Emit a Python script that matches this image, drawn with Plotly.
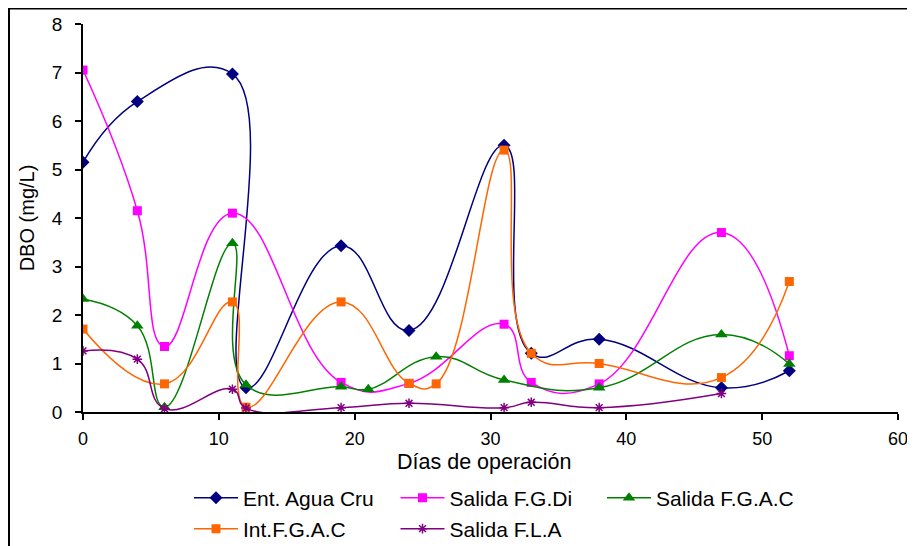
import plotly.graph_objects as go

# ---- data ----
x_ent = [0, 4, 11, 12, 19, 24, 31, 33, 38, 47, 52]
y_ent = [5.15, 6.4, 6.97, 0.5, 3.43, 1.68, 5.5, 1.21, 1.5, 0.5, 0.85]

x_fgdi = [0, 4, 6, 11, 19, 24, 31, 33, 38, 47, 52]
y_fgdi = [7.05, 4.15, 1.35, 4.1, 0.61, 0.59, 1.81, 0.61, 0.58, 3.7, 1.16]

x_fgac = [0, 4, 6, 11, 12, 19, 21, 26, 31, 38, 47, 52]
y_fgac = [2.33, 1.78, 0.1, 3.48, 0.56, 0.52, 0.47, 1.14, 0.66, 0.5, 1.6, 0.99]

x_int = [0, 6, 11, 12, 19, 24, 26, 31, 33, 38, 47, 52]
y_int = [1.71, 0.58, 2.27, 0.1, 2.27, 0.59, 0.58, 5.4, 1.21, 1.0, 0.71, 2.69]

x_fla = [0, 4, 6, 11, 12, 19, 24, 31, 33, 38, 47]
y_fla = [1.26, 1.09, 0.07, 0.47, 0.08, 0.09, 0.18, 0.09, 0.2, 0.09, 0.38]

names = ["Ent. Agua Cru", "Salida F.G.Di", "Salida F.G.A.C", "Int.F.G.A.C", "Salida F.L.A"]
x_ticks = [0, 10, 20, 30, 40, 50, 60]
y_ticks = [0, 1, 2, 3, 4, 5, 6, 7, 8]
x_title = "Días de operación"
y_title = "DBO (mg/L)"

FONT = "Liberation Sans, Arial, sans-serif"

fig = go.Figure()

def add(x, y, name, color, symbol, size, legend, lw=1.5):
    fig.add_trace(go.Scatter(
        x=x, y=y, name=name, mode="lines+markers",
        line=dict(color=color, width=lw, shape="spline", smoothing=1.3),
        marker=dict(symbol=symbol, size=size, color=color,
                    line=dict(color=color, width=1.5 if "open" in symbol else 0)),
        legend=legend,
    ))

add(x_ent, y_ent, names[0], "#000080", "diamond", 10, "legend")
add(x_fgdi, y_fgdi, names[1], "#FF00FF", "square", 9, "legend")
add(x_fgac, y_fgac, names[2], "#008000", "triangle-up", 11, "legend3")
add(x_int, y_int, names[3], "#FF6600", "square", 9, "legend2")
add(x_fla, y_fla, names[4], "#800080", "asterisk-open", 8, "legend2")

# The page body has an 8px margin, so the figure is drawn 8px lower/right.
OFF = 8
W, H = 915 - OFF, 546 - OFF
L, R, T, B = 83 - OFF, 17, 24 - OFF, 134
pw = W - L - R
ph = H - T - B

def px2paper_x(px):  # px in window coordinates
    return (px - OFF - L) / pw

def px2paper_y(py):
    return (H - B - (py - OFF)) / ph

COL = 206.5
LEG_FONT = 21
ITEMW = 44

def leg(xpx, ypx):
    return dict(
        orientation="h", x=px2paper_x(xpx), xanchor="left",
        y=px2paper_y(ypx), yanchor="middle",
        font=dict(size=LEG_FONT), itemwidth=ITEMW,
        entrywidth=COL - ITEMW - 15, entrywidthmode="pixels",
        bgcolor="rgba(0,0,0,0)", tracegroupgap=0, borderwidth=0,
    )

fig.update_layout(
    width=W, height=H,
    margin=dict(l=L, r=R, t=T, b=B, autoexpand=False),
    paper_bgcolor="white", plot_bgcolor="white",
    font=dict(family=FONT, size=16, color="black"),
    xaxis=dict(
        range=[0, 60], tickvals=x_ticks, showgrid=False, zeroline=False,
        showline=True, linecolor="black", linewidth=1.5, automargin=False,
        ticks="outside", ticklen=6, tickwidth=1.5, tickcolor="black",
        tickfont=dict(size=18), ticklabelstandoff=4,
    ),
    yaxis=dict(
        range=[0, 8], tickvals=y_ticks, showgrid=False, zeroline=False,
        showline=True, linecolor="black", linewidth=1.5, automargin=False,
        ticks="outside", ticklen=6, tickwidth=1.5, tickcolor="black",
        tickfont=dict(size=19), ticklabelstandoff=9,
        title=dict(text=y_title, font=dict(size=20), standoff=12),
    ),
    annotations=[
        dict(text=x_title, xref="paper", yref="paper",
             x=px2paper_x(484.5), y=px2paper_y(462), xanchor="center", yanchor="middle",
             showarrow=False, font=dict(size=21.5), borderpad=0),
    ],
    legend=leg(189, 498),
    legend3=leg(189 + 2 * COL, 498),
    legend2=leg(189, 529),
    shapes=[
        dict(type="line", xref="paper", yref="paper",
             x0=px2paper_x(9), x1=px2paper_x(9), y0=px2paper_y(7), y1=px2paper_y(560),
             line=dict(color="black", width=2)),
        dict(type="line", xref="paper", yref="paper",
             x0=px2paper_x(9), x1=px2paper_x(930), y0=px2paper_y(8.5), y1=px2paper_y(8.5),
             line=dict(color="black", width=2)),
    ],
)

fig.write_html("out.html")
